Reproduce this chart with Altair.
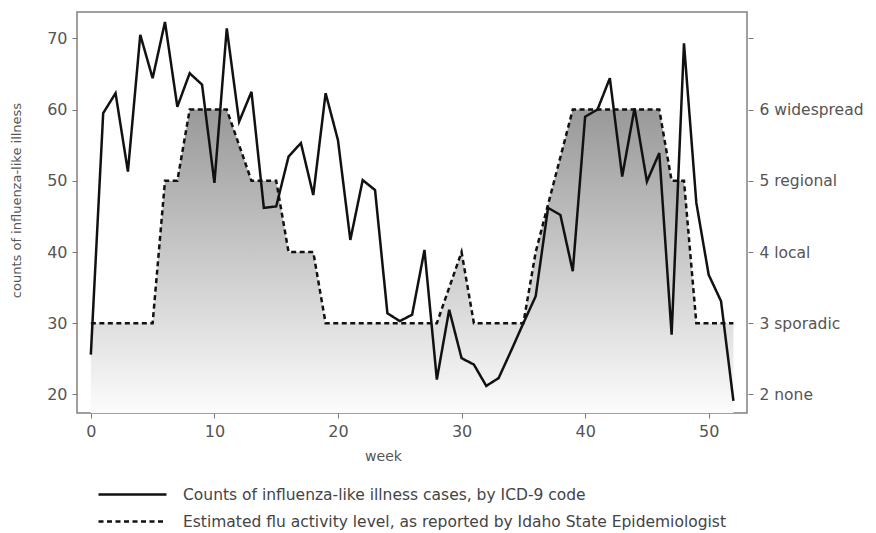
import altair as alt
import pandas as pd

# ---- data ----
weeks = list(range(53))
ili_counts = [25.6, 59.5, 62.3, 51.3, 70.5, 64.4, 72.3, 60.4, 65.1, 63.5,
              49.7, 71.4, 58.3, 62.5, 46.2, 46.4, 53.4, 55.3, 48.0, 62.3,
              55.7, 41.7, 50.1, 48.7, 31.4, 30.3, 31.2, 40.3, 22.1, 31.9,
              25.1, 24.2, 21.2, 22.3, 26.1, 30.0, 33.8, 46.2, 45.2, 37.3,
              59.0, 60.0, 64.4, 50.6, 60.2, 49.9, 53.9, 28.4, 69.3, 46.9,
              36.8, 33.1, 19.1]

activity_weeks = [0, 1, 2, 3, 4, 5, 6, 7, 8, 9, 10, 11,
                  13, 14, 15, 16, 17, 18, 19, 20, 21, 22, 23, 24, 25, 26, 27, 28,
                  30, 31, 32, 33, 34, 35, 36,
                  39, 40, 41, 42, 43, 44, 45, 46, 47, 48, 49, 50, 51, 52]
activity_levels = [3, 3, 3, 3, 3, 3, 5, 5, 6, 6, 6, 6,
                   5, 5, 5, 4, 4, 4, 3, 3, 3, 3, 3, 3, 3, 3, 3, 3,
                   4, 3, 3, 3, 3, 3, 4,
                   6, 6, 6, 6, 6, 6, 6, 6, 5, 5, 3, 3, 3, 3]

x_ticks = [0, 10, 20, 30, 40, 50]
y_ticks = [20, 30, 40, 50, 60, 70]
right_labels = ["2 none", "3 sporadic", "4 local", "5 regional", "6 widespread", ""]
legend_labels = ["Counts of influenza-like illness cases, by ICD-9 code",
                 "Estimated flu activity level, as reported by Idaho State Epidemiologist"]

X_MIN, X_MAX = -1.12, 53.1
Y_MIN, Y_MAX = 17.4, 73.7

FONT = "DejaVu Sans"
TXT = "#555555"
LINE = "#111111"

ili = pd.DataFrame({"week": weeks, "count": ili_counts, "series": legend_labels[0]})
act = pd.DataFrame({"week": activity_weeks, "level": activity_levels, "series": legend_labels[1]})

xscale = alt.Scale(domain=[X_MIN, X_MAX], nice=False, zero=False)
yscale = alt.Scale(domain=[Y_MIN, Y_MAX], nice=False, zero=False)

x_axis = alt.Axis(values=x_ticks, domain=False, grid=False, tickSize=5, tickColor="#777777",
                  labelFont=FONT, labelFontSize=16, labelColor=TXT, labelPadding=5,
                  title="week", titleFont=FONT, titleFontSize=14, titleFontWeight="normal",
                  titleColor=TXT, titlePadding=10, titleX=306)

right_expr = " : ".join(f"datum.value == {v} ? '{t}'" for v, t in zip(y_ticks, right_labels)) + " : ''"

gradient = alt.Gradient(gradient="linear",
                        stops=[alt.GradientStop(color="#999999", offset=0),
                               alt.GradientStop(color="#fcfcfc", offset=1)],
                        x1=0, x2=0, y1=0, y2=1)

legend_common = dict(orient="none", legendX=20, symbolType="stroke", symbolSize=4624,
                     symbolStrokeWidth=2.5, symbolStrokeColor=LINE, labelFont=FONT,
                     labelFontSize=15.5, labelColor="#444444", labelOffset=15, labelLimit=0,
                     title=None)

area = alt.Chart(act).transform_calculate(
    yv="datum.level * 10", base=str(Y_MIN)
).mark_area(color=gradient, line=False, clip=True).encode(
    x=alt.X("week:Q", scale=xscale, axis=x_axis),
    y=alt.Y("yv:Q", scale=yscale, axis=None),
    y2="base:Q",
)

dashed = alt.Chart(act).transform_calculate(
    yv="datum.level * 10"
).mark_line(color=LINE, strokeWidth=2.5, clip=True).encode(
    x=alt.X("week:Q", scale=xscale, axis=x_axis),
    y=alt.Y("yv:Q", scale=yscale,
            axis=alt.Axis(orient="right", values=y_ticks, labelExpr=right_expr, domain=False,
                          grid=False, tickSize=5, tickColor="#777777", offset=1,
                          labelFont=FONT, labelFontSize=15.5, labelColor=TXT, labelPadding=6,
                          title=None)),
    strokeDash=alt.StrokeDash("series:N",
                              scale=alt.Scale(domain=[legend_labels[1]], range=[[5, 3.5]]),
                              legend=alt.Legend(legendY=474, **legend_common)),
)

solid = alt.Chart(ili).mark_line(color=LINE, strokeWidth=2.5, clip=True).encode(
    x=alt.X("week:Q", scale=xscale, axis=x_axis),
    y=alt.Y("count:Q", scale=yscale,
            axis=alt.Axis(orient="left", values=y_ticks, domain=False, grid=False, tickSize=5,
                          tickColor="#777777", labelFont=FONT, labelFontSize=16, labelColor=TXT,
                          labelPadding=5, title="counts of influenza-like illness", titleFont=FONT,
                          titleFontSize=13, titleFontWeight="normal", titleColor=TXT,
                          titlePadding=23, titleY=188)),
    strokeDash=alt.StrokeDash("series:N",
                              scale=alt.Scale(domain=[legend_labels[0]], range=[[1, 0]]),
                              legend=alt.Legend(legendY=447, **legend_common)),
)

chart = alt.layer(area, dashed, solid).resolve_scale(
    y="shared", strokeDash="independent"
).resolve_axis(y="independent").properties(
    width=670, height=401,
    autosize=alt.AutoSizeParams(type="none"),
    padding={"left": 69, "top": 4, "right": 121, "bottom": 120},
    background="white",
).configure_view(stroke="#808080", strokeWidth=1.5)

chart.save("out.html", embed_options={"renderer": "svg", "actions": False})
